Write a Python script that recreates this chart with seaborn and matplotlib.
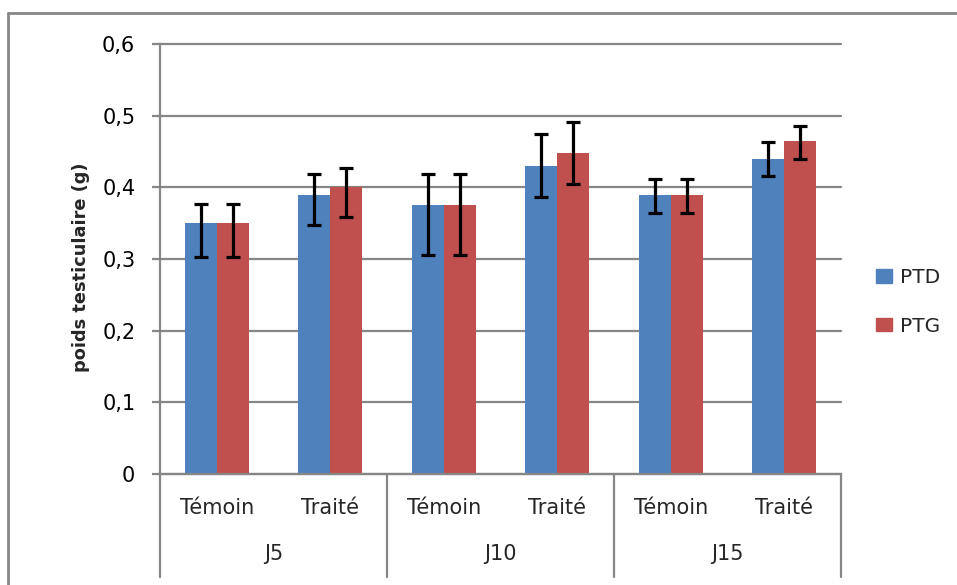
import matplotlib
matplotlib.use("Agg")
import matplotlib.pyplot as plt
import matplotlib.ticker as mticker
from matplotlib.lines import Line2D
import seaborn as sns
import pandas as pd
import numpy as np

groups = ["J5", "J10", "J15"]
treatments = ["Témoin", "Traité"]
series = ["PTD", "PTG"]
ptd_values = [0.350, 0.389, 0.375, 0.430, 0.389, 0.440]
ptg_values = [0.350, 0.400, 0.375, 0.448, 0.389, 0.465]
ptd_err_low = [0.047, 0.041, 0.070, 0.044, 0.025, 0.024]
ptd_err_high = [0.027, 0.029, 0.043, 0.044, 0.023, 0.023]
ptg_err_low = [0.047, 0.041, 0.070, 0.043, 0.025, 0.026]
ptg_err_high = [0.027, 0.027, 0.043, 0.043, 0.023, 0.021]
colors = {"PTD": "#4F81BD", "PTG": "#C0504D"}

cats = [f"{g} {t}" for g in groups for t in treatments]
df = pd.DataFrame({
    "cat": cats * 2,
    "serie": ["PTD"] * 6 + ["PTG"] * 6,
    "val": ptd_values + ptg_values,
    "lo": ptd_err_low + ptg_err_low,
    "hi": ptd_err_high + ptg_err_high,
})

sns.set_style("white")
plt.rcParams["font.family"] = ["DejaVu Sans"]
FS = 15

fig = plt.figure(figsize=(9.57, 5.85), dpi=100)
ax = fig.add_axes([160/957, 1-474/585, (841-160)/957, 430/585])

sns.barplot(data=df, x="cat", y="val", hue="serie", order=cats, hue_order=series,
            palette=colors, width=0.565, errorbar=None, saturation=1, ax=ax,
            legend=False, linewidth=0)

# error bars at bar centres
for container, s in zip(ax.containers, series):
    sub = df[df.serie == s].set_index("cat").loc[cats]
    xs = [p.get_x() + p.get_width()/2 for p in container.patches]
    ax.errorbar(xs, sub["val"].values, yerr=[sub["lo"].values, sub["hi"].values], fmt="none",
                ecolor="black", elinewidth=2.3, capsize=4.8, capthick=2.3, zorder=5)

ax.set_xlim(-0.5, 5.5)
ax.set_ylim(0, 0.6)
ax.set_yticks(np.arange(0, 0.61, 0.1))
ax.yaxis.set_major_formatter(mticker.FuncFormatter(lambda v, p: ("%.1f" % v).replace(".", ",") if v > 0.001 else "0"))
ax.grid(axis="y", color="#868686", linewidth=1.6)
for gl in ax.get_ygridlines():
    gl.set_clip_on(False)
ax.set_axisbelow(True)
for sp in ["top", "right"]:
    ax.spines[sp].set_visible(False)
for sp in ["left", "bottom"]:
    ax.spines[sp].set_color("#868686")
    ax.spines[sp].set_linewidth(1.6)
ax.tick_params(axis="y", length=5.8, width=1.6, color="#868686", labelsize=FS, pad=12, labelcolor="#000000", left=True)
ax.tick_params(axis="x", length=0, labelbottom=False)
ax.set_xlabel("")
ax.set_ylabel("")
fig.text(81/957, 1-267/585, "poids testiculaire (g)", rotation=90, ha="center", va="center",
         fontsize=12.8, fontweight="bold")

# multi-level category axis
trans = ax.get_xaxis_transform()
for i, c in enumerate(cats):
    ax.text(i, -0.079, c.split(" ")[1], transform=trans, ha="center", va="center", fontsize=FS)
for gi, g in enumerate(groups):
    ax.text(gi*2 + 0.5, -0.186, g, transform=trans, ha="center", va="center", fontsize=FS)
for xb in [-0.5, 1.5, 3.5, 5.5]:
    ax.plot([xb, xb], [0, -0.2395], transform=trans, color="#868686", lw=1.6, clip_on=False)

# legend
handles = [plt.Rectangle((0, 0), 1, 1, color=colors[s]) for s in series]
fig.legend(handles, series, loc="center left", bbox_to_anchor=(872/957, 1-302/585),
           frameon=False, fontsize=14.5, handlelength=0.78, handleheight=0.68,
           labelspacing=1.45, handletextpad=0.4, borderaxespad=0, borderpad=0.2)

# outer chart border
fig.add_artist(Line2D([8/957, 8/957], [0, 1-13/585], transform=fig.transFigure, color="#868686", lw=2))
fig.add_artist(Line2D([8/957, 1], [1-13/585, 1-13/585], transform=fig.transFigure, color="#868686", lw=2))

fig.savefig("out.png", dpi=100)
